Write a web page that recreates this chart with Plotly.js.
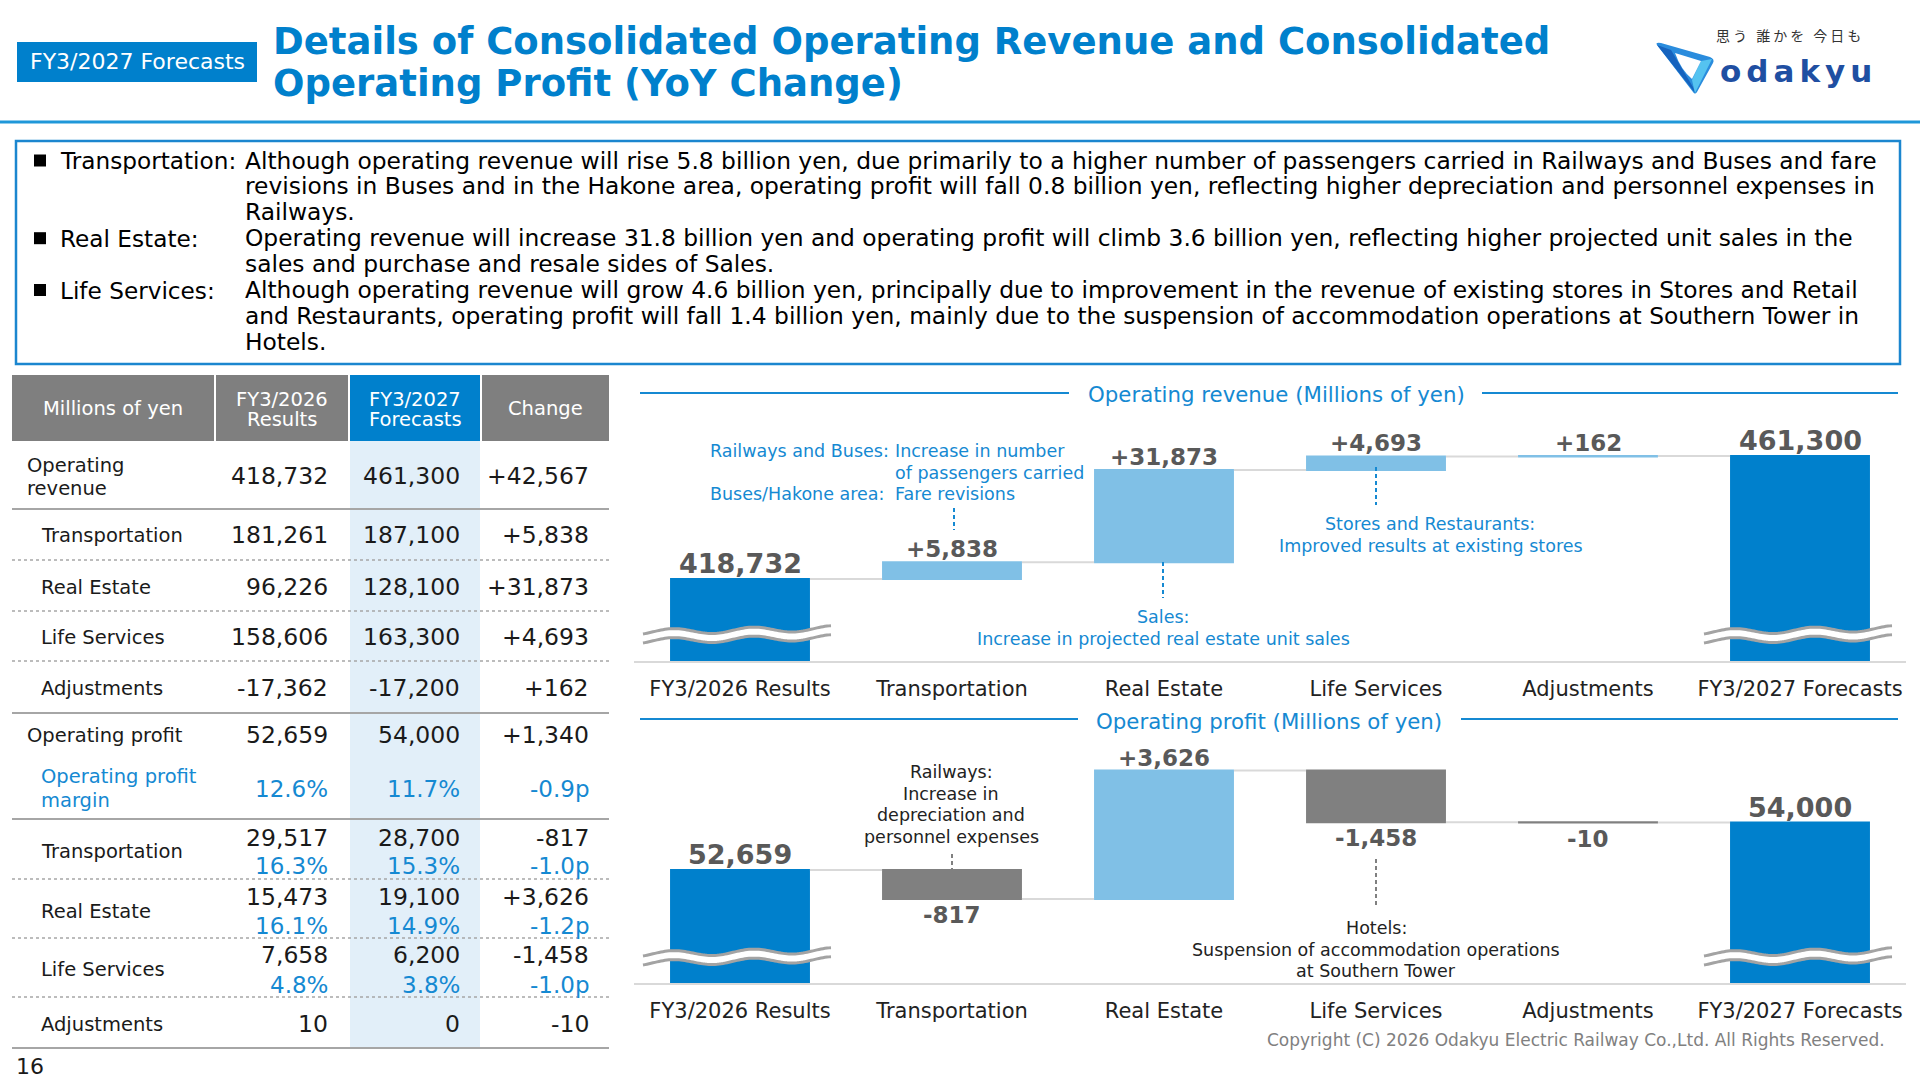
<!DOCTYPE html>
<html>
<head>
<meta charset="utf-8">
<script src="https://cdn.plot.ly/plotly-3.0.1.min.js"></script>
<style>
html,body{margin:0;padding:0;background:#fff;overflow:hidden;}
#chart{width:1920px;height:1080px;}
</style>
</head>
<body>
<div id="chart"></div>
<script>
// ---------------- DATA ----------------
const categories = ["FY3/2026 Results", "Transportation", "Real Estate", "Life Services", "Adjustments", "FY3/2027 Forecasts"];
const measures = ["absolute", "relative", "relative", "relative", "relative", "absolute"];

const tableHeaders = [["Millions of yen"], ["FY3/2026", "Results"], ["FY3/2027", "Forecasts"], ["Change"]];
const revenueRows = [["Operating", "revenue"], ["Transportation"], ["Real Estate"], ["Life Services"], ["Adjustments"]];
const revenue2026 = [418732, 181261, 96226, 158606, -17362];
const revenue2027 = [461300, 187100, 128100, 163300, -17200];
const revenueChange = [42567, 5838, 31873, 4693, 162];

const profitRows = [["Operating profit"], ["Transportation"], ["Real Estate"], ["Life Services"], ["Adjustments"]];
const profit2026 = [52659, 29517, 15473, 7658, 10];
const profit2027 = [54000, 28700, 19100, 6200, 0];
const profitChange = [1340, -817, 3626, -1458, -10];

const marginLabel = ["Operating profit", "margin"];
const margin2026 = [12.6, 16.3, 16.1, 4.8];
const margin2027 = [11.7, 15.3, 14.9, 3.8];
const marginChange = [-0.9, -1.0, -1.2, -1.0];

const summaryLabels = ["Transportation:", "Real Estate:", "Life Services:"];
const summaryLines = [
  ["Although operating revenue will rise 5.8 billion yen, due primarily to a higher number of passengers carried in Railways and Buses and fare",
   "revisions in Buses and in the Hakone area, operating profit will fall 0.8 billion yen, reflecting higher depreciation and personnel expenses in",
   "Railways."],
  ["Operating revenue will increase 31.8 billion yen and operating profit will climb 3.6 billion yen, reflecting higher projected unit sales in the",
   "sales and purchase and resale sides of Sales."],
  ["Although operating revenue will grow 4.6 billion yen, principally due to improvement in the revenue of existing stores in Stores and Retail",
   "and Restaurants, operating profit will fall 1.4 billion yen, mainly due to the suspension of accommodation operations at Southern Tower in",
   "Hotels."]
];

const titleLines = ["Details of Consolidated Operating Revenue and Consolidated", "Operating Profit (YoY Change)"];
const badgeText = "FY3/2027 Forecasts";
const revenueTitle = "Operating revenue (Millions of yen)";
const profitTitle = "Operating profit (Millions of yen)";
const revNoteRailLeft = ["Railways and Buses:", "", "Buses/Hakone area:"];
const revNoteRailRight = ["Increase in number", "of passengers carried", "Fare revisions"];
const revNoteSales = ["Sales:", "Increase in projected real estate unit sales"];
const revNoteStores = ["Stores and Restaurants:", "Improved results at existing stores"];
const profNoteRail = ["Railways:", "Increase in", "depreciation and", "personnel expenses"];
const profNoteHotels = ["Hotels:", "Suspension of accommodation operations", "at Southern Tower"];
const copyright = "Copyright (C) 2026 Odakyu Electric Railway Co.,Ltd. All Rights Reserved.";
const pageNumber = "16";
const tagline = "思う 誰かを 今日も";
const brand = "odakyu";

// ---------------- HELPERS ----------------
const FONT = "DejaVu Sans, Verdana, sans-serif";
const W = 1920, H = 1080;
const px = x => x / W, py = y => 1 - y / H;
const fmt = v => v.toLocaleString("en-US");
const sgn = v => (v > 0 ? "+" : "") + fmt(v);
const pct = v => v.toFixed(1) + "%";
const pts = v => (v > 0 ? "+" : "") + v.toFixed(1) + "p";

const BLUE = "#0080CC", LBLUE = "#80C0E6", GRAY = "#808080", TBLUE = "#1589D2", INK = "#1a1a1a";
const annotations = [];
const shapes = [];

function T(x, y, text, size, color, xanchor, extra) {
  annotations.push(Object.assign({
    xref: "paper", yref: "paper", x: px(x), y: py(y), text: text, showarrow: false,
    xanchor: xanchor || "left", yanchor: "middle", borderpad: 0,
    font: { family: FONT, size: size, color: color }
  }, extra || {}));
}
function R(x0, y0, x1, y1, fill, line, layer) {
  shapes.push({ type: "rect", xref: "paper", yref: "paper", x0: px(x0), x1: px(x1), y0: py(y0), y1: py(y1),
    fillcolor: fill, line: line || { width: 0 }, layer: layer || "below" });
}
function L(x0, y0, x1, y1, color, width, dash) {
  shapes.push({ type: "line", xref: "paper", yref: "paper", x0: px(x0), x1: px(x1), y0: py(y0), y1: py(y1),
    line: { color: color, width: width, dash: dash || "solid" } });
}
function P(d, fill, line) {
  const conv = d.replace(/(-?[\d.]+),(-?[\d.]+)/g, (m, a, b) => px(+a) + "," + py(+b));
  shapes.push({ type: "path", xref: "paper", yref: "paper", path: conv, fillcolor: fill,
    line: line || { width: 0 }, layer: "above" });
}

// ---------------- HEADER ----------------
R(17, 42, 257, 82, BLUE);
T(137, 62, badgeText, 22, "#ffffff", "center");
T(272, 41.5, "<b>" + titleLines[0] + "</b>", 37, BLUE);
T(272, 83.5, "<b>" + titleLines[1] + "</b>", 37, BLUE);
L(0, 122, 1920, 122, "#1F97D9", 3);

// logo
T(1790, 35, '<span style="letter-spacing:3px">' + tagline + '</span>', 14, "#333333", "center",
  { font: { family: "Noto Sans CJK JP", size: 14, color: "#333" } });
P("M1657,45 Q1655,42 1661,43 L1710,57 Q1715,59 1713,63 L1697,92 Q1695,95 1693,92 Z", "#2A8CDD");
P("M1657,45 L1671,50 L1693,87 L1695,93 Z", "#1663BE");
P("M1701,61 L1712,59 L1695,93 L1692,80 Z", "#55C3F0");
P("M1675,53 L1701,61 L1692,79 Q1681,70 1675,53 Z", "#ffffff");
T(1798, 71, '<b><span style="letter-spacing:5px">' + brand + '</span></b>', 31, "#1F4FA2", "center");

// ---------------- SUMMARY BOX ----------------
R(16, 141, 1900, 364, "rgba(0,0,0,0)", { color: "#1B86CF", width: 2.5 }, "above");
let lineIdx = 0;
const lineY0 = 160.5, lineStep = 25.9;
summaryLabels.forEach((lab, i) => {
  const yL = lineY0 + lineIdx * lineStep;
  R(34, yL - 6, 46, yL + 6, "#000000");
  T(59, yL, lab, 23.2, "#000000");
  summaryLines[i].forEach(s => {
    T(244, lineY0 + lineIdx * lineStep, s, 23.35, "#000000");
    lineIdx++;
  });
});

// ---------------- TABLE ----------------
const colX = [[12, 214], [216, 348], [350, 480], [482, 609]];
const valRight = [329, 461, 590];
R(350, 441, 480, 1048, "#E2EFF9");
colX.forEach((c, i) => {
  R(c[0], 375, c[1], 441, i === 2 ? BLUE : "#7F7F7F");
  const cx = (c[0] + c[1]) / 2;
  const lines = tableHeaders[i];
  if (lines.length === 1) T(cx, 408, lines[0], 19.5, "#ffffff", "center");
  else { T(cx, 399, lines[0], 19.5, "#ffffff", "center"); T(cx, 420, lines[1], 19.5, "#ffffff", "center"); }
});
const LINEC = "#A6A6A6";
function hline(y, dotted) { L(12, y, 609, y, LINEC, dotted ? 1.6 : 2.2, dotted ? "dot" : "solid"); }

// revenue block
const revY = [476, 535, 587, 637, 688];
revenueRows.forEach((lab, i) => {
  if (lab.length === 2) { T(26, 465, lab[0], 19.5, INK); T(26, 489, lab[1], 19.5, INK); }
  else T(40, revY[i], lab[0], 19.5, INK);
  T(valRight[0], revY[i], fmt(revenue2026[i]), 23.5, INK, "right");
  T(valRight[1], revY[i], fmt(revenue2027[i]), 23.5, INK, "right");
  T(valRight[2], revY[i], sgn(revenueChange[i]), 23.5, INK, "right");
});
hline(509, false); hline(560, true); hline(611, true); hline(661, true); hline(713, false);

// profit block
const profValY = [735, 838, 897, 955, 1024];
const profPctY = [789, 866, 926, 985];
const profLabY = [735, 851, 911, 969, 1024];
profitRows.forEach((lab, i) => {
  T(i === 0 ? 26 : 40, profLabY[i], lab[0], 19.5, INK);
  T(valRight[0], profValY[i], fmt(profit2026[i]), 23.5, INK, "right");
  T(valRight[1], profValY[i], fmt(profit2027[i]), 23.5, INK, "right");
  T(valRight[2], profValY[i], sgn(profitChange[i]), 23.5, INK, "right");
  if (i < margin2026.length) {
    T(valRight[0], profPctY[i], pct(margin2026[i]), 23, TBLUE, "right");
    T(valRight[1], profPctY[i], pct(margin2027[i]), 23, TBLUE, "right");
    T(valRight[2], profPctY[i], pts(marginChange[i]), 23, TBLUE, "right");
  }
});
T(40, 776, marginLabel[0], 19.5, TBLUE);
T(40, 800, marginLabel[1], 19.5, TBLUE);
hline(819, false); hline(879, true); hline(938, true); hline(997, true); hline(1048, false);
T(15, 1066, pageNumber, 22, INK);

// ---------------- CHART SECTION TITLES ----------------
T(1276, 394, revenueTitle, 21.3, TBLUE, "center");
L(640, 393, 1069, 393, TBLUE, 2); L(1482, 393, 1898, 393, TBLUE, 2);
T(1269, 721, profitTitle, 21.3, TBLUE, "center");
L(640, 719, 1078, 719, TBLUE, 2); L(1461, 719, 1898, 719, TBLUE, 2);

// ---------------- WATERFALLS ----------------
const revWF = [revenue2026[0]].concat(revenueChange.slice(1), [revenue2027[0]]);
const profWF = [profit2026[0]].concat(profitChange.slice(1), [profit2027[0]]);

function wf(y, xa, ya) {
  return {
    type: "waterfall", x: categories, y: y, measure: measures, xaxis: xa, yaxis: ya,
    totals: { marker: { color: BLUE } },
    increasing: { marker: { color: LBLUE } },
    decreasing: { marker: { color: GRAY } },
    connector: { mode: "between", line: { color: "#D9D9D9", width: 2 } },
    textinfo: "none", hoverinfo: "skip"
  };
}
function barLabels(y, xref, yref) {
  let level = 0;
  y.forEach((v, i) => {
    let yy, anchor, text, size;
    if (measures[i] === "absolute") { level = v; yy = v; anchor = "bottom"; text = fmt(v); size = 27; }
    else { level += v; yy = level; anchor = v >= 0 ? "bottom" : "top"; text = sgn(v); size = 23; }
    annotations.push({
      xref: xref, yref: yref, x: categories[i], y: yy, text: "<b>" + text + "</b>", showarrow: false,
      xanchor: "center", yanchor: anchor, yshift: anchor === "bottom" ? -2 : -1,
      font: { family: FONT, size: size, color: "#595959" }
    });
  });
}
barLabels(revWF, "x", "y");
barLabels(profWF, "x2", "y2");

// broken-axis waves
function wave(cx, axisY) {
  const up = [], lo = [];
  for (let x = cx - 97; x <= cx + 91; x += 2) {
    const t = (x - (cx - 97)) / 188;
    const mid = axisY - 29 - 3.5 * t;
    const yv = mid - 2.8 * Math.cos(2 * Math.PI * (x - (cx - 67)) / 80);
    up.push([x, yv]); lo.push([x, yv + 9]);
  }
  const seg = a => a.map((p, k) => (k ? "L" : "M") + p[0].toFixed(2) + "," + p[1].toFixed(2)).join(" ");
  const band = seg(up) + " " + lo.slice().reverse().map(p => "L" + p[0].toFixed(2) + "," + p[1].toFixed(2)).join(" ") + " Z";
  P(band, "#ffffff");
  P(seg(up), "rgba(0,0,0,0)", { color: "#A3A3A3", width: 3 });
  P(seg(lo), "rgba(0,0,0,0)", { color: "#A3A3A3", width: 3 });
}
wave(740, 661); wave(1801, 661);
wave(740, 983); wave(1801, 983);

// notes (revenue, blue)
T(709, 451, revNoteRailLeft[0], 17.5, TBLUE);
T(709, 494, revNoteRailLeft[2], 17.5, TBLUE);
T(894, 451, revNoteRailRight[0], 17.5, TBLUE);
T(894, 473, revNoteRailRight[1], 17.5, TBLUE);
T(894, 494, revNoteRailRight[2], 17.5, TBLUE);
L(954, 508, 954, 530, TBLUE, 2, "4px,3px");
T(1163, 617, revNoteSales[0], 17.5, TBLUE, "center");
T(1163, 639, revNoteSales[1], 17.5, TBLUE, "center");
L(1163, 562, 1163, 598, TBLUE, 2, "4px,3px");
T(1430, 524, revNoteStores[0], 17.5, TBLUE, "center");
T(1431, 546, revNoteStores[1], 17.5, TBLUE, "center");
L(1376, 467, 1376, 505, TBLUE, 2, "4px,3px");

// notes (profit, dark)
profNoteRail.forEach((s, k) => T(951, 772 + k * 21.7, s, 17.5, "#222222", "center"));
L(952, 854, 952, 869, GRAY, 2, "4px,3px");
profNoteHotels.forEach((s, k) => T(1376, 928 + k * 21.5, s, 17.5, "#222222", "center"));
L(1376, 859, 1376, 908, GRAY, 2, "4px,3px");

T(1886, 1040, copyright, 17, "#808080", "right");

// ---------------- LAYOUT ----------------
const xAxisBase = {
  type: "category", showline: true, linecolor: "#D9D9D9", linewidth: 2,
  ticks: "outside", ticklen: 8, tickcolor: "rgba(0,0,0,0)",
  tickfont: { family: FONT, size: 21, color: "#222222" },
  showgrid: false, zeroline: false, fixedrange: true
};
const yAxisBase = { visible: false, showgrid: false, zeroline: false, fixedrange: true };

const layout = {
  width: W, height: H, margin: { l: 0, r: 0, t: 0, b: 0 },
  paper_bgcolor: "#ffffff", plot_bgcolor: "rgba(0,0,0,0)", showlegend: false,
  font: { family: FONT, color: "#222222" },
  waterfallgap: 0.34,
  xaxis: Object.assign({}, xAxisBase, { domain: [px(634), px(1906)], anchor: "y" }),
  yaxis: Object.assign({}, yAxisBase, { domain: [py(661), py(400)], range: [390353, 480680], anchor: "x" }),
  xaxis2: Object.assign({}, xAxisBase, { domain: [px(634), px(1906)], anchor: "y2" }),
  yaxis2: Object.assign({}, yAxisBase, { domain: [py(983), py(740)], range: [49467, 56331], anchor: "x2" }),
  annotations: annotations,
  shapes: shapes
};

Plotly.newPlot("chart", [wf(revWF, "x", "y"), wf(profWF, "x2", "y2")], layout, { staticPlot: true, displayModeBar: false });
</script>
</body>
</html>
